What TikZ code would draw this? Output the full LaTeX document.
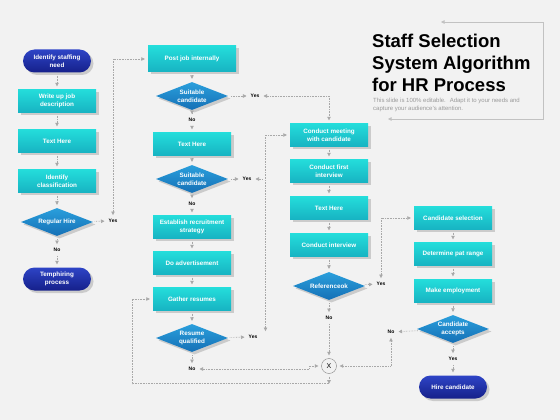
\documentclass[tikz,border=0pt]{standalone}
\usepackage{fontspec}
\setmainfont{Liberation Sans}
\usetikzlibrary{shapes.geometric,shadows,arrows.meta}
\definecolor{bgcol}{HTML}{F2F2F2}
\definecolor{boxtop}{HTML}{24DDDB}
\definecolor{boxbot}{HTML}{17B3C2}
\definecolor{dectop}{HTML}{2A9FDC}
\definecolor{decbot}{HTML}{1570B6}
\definecolor{termtop}{HTML}{2E44C6}
\definecolor{termbot}{HTML}{15208A}
\definecolor{linecol}{HTML}{A8A8A8}
\definecolor{subcol}{HTML}{9A9A9A}

\begin{document}
\begin{tikzpicture}[x=1pt,y=-1pt,
  boxshadow/.style={drop shadow={shadow xshift=2.5pt,shadow yshift=-2.5pt,fill=black!35,opacity=0.5}},
  boxfont/.style={font=\fontsize{6.3}{7.6}\selectfont\bfseries,text=white,align=center},
  proc/.style={boxshadow,boxfont,rectangle,top color=boxtop,bottom color=boxbot,minimum width=78pt,minimum height=23pt,inner sep=1pt},
  dec/.style={boxshadow,boxfont,diamond,aspect=2.5,top color=dectop,bottom color=decbot,minimum width=72pt,minimum height=28pt,inner sep=0pt},
  term/.style={boxshadow,boxfont,rectangle,rounded corners=11.5pt,top color=termtop,bottom color=termbot,minimum width=68pt,minimum height=23pt,inner sep=1pt},
  lbl/.style={font=\fontsize{5}{6}\selectfont\bfseries,inner sep=1pt},
  link/.style={draw=linecol,densely dotted,line width=0.6pt,shorten >=3pt,shorten <=3pt},
  >={Triangle[length=3.5pt,width=3.5pt]}]
\path[use as bounding box,fill=bgcol] (0,0) rectangle (560,420);

\node[term] (need) at (57,61) {Identify staffing\\need};
\node[proc] (desc) at (57,101) {Write up job\\description};
\node[proc] (txtA) at (57,141) {Text Here};
\node[proc] (class) at (57,181) {Identify\\classification};
\node[dec] (hire) at (57,222) {Regular Hire};
\node[lbl] (noA) at (57,250) {No};
\node[term] (temp) at (57,279) {Temphiring\\process};
\node[lbl] (yesA) at (113,221) {Yes};

\node[proc,minimum width=88pt,minimum height=26pt] (post) at (192,59) {Post job internally};
\node[dec] (suitA) at (192,96) {Suitable\\candidate};
\node[lbl] (noB) at (192,120) {No};
\node[proc] (txtB) at (192,144) {Text Here};
\node[dec] (suitB) at (192,179) {Suitable\\candidate};
\node[lbl] (noC) at (192,204) {No};
\node[proc] (strat) at (192,227) {Establish recruitment\\strategy};
\node[proc] (adv) at (192,263) {Do advertisement};
\node[proc] (gather) at (192,299) {Gather resumes};
\node[dec] (resq) at (192,338) {Resume\\qualified};
\node[lbl] (noD) at (192,369) {No};
\node[lbl] (yesB) at (255,96) {Yes};
\node[lbl] (yesC) at (247,179) {Yes};
\node[lbl] (yesD) at (253,337) {Yes};

\node[proc] (meet) at (329,135) {Conduct meeting\\with candidate};
\node[proc] (first) at (329,171) {Conduct first\\interview};
\node[proc] (txtC) at (329,208) {Text Here};
\node[proc] (interv) at (329,245) {Conduct interview};
\node[dec] (ref) at (329,286) {Referenceok};
\node[lbl] (noE) at (329,318) {No};
\node[circle,draw=linecol!80!black,fill=bgcol,minimum size=15pt,inner sep=0pt,font=\fontsize{7}{8}\selectfont] (cross) at (329,366) {X};
\node[lbl] (yesE) at (381,284) {Yes};
\node[lbl] (noF) at (391,332) {No};

\node[proc] (sel) at (453,218) {Candidate selection};
\node[proc] (pay) at (453,254) {Determine pat range};
\node[proc] (emp) at (453,291) {Make employment};
\node[dec] (acc) at (453,329) {Candidate\\accepts};
\node[lbl] (yesF) at (453,359) {Yes};
\node[term] (hirec) at (453,387) {Hire candidate};

\draw[link,->] (need) -- (desc);
\draw[link,->] (desc) -- (txtA);
\draw[link,->] (txtA) -- (class);
\draw[link,->] (class) -- (hire);
\draw[link,->] (hire) -- (noA);
\draw[link,->] (noA) -- (temp);
\draw[link,->] (hire) -- (yesA);
\draw[link,->] (post) -- (suitA);
\draw[link,->] (suitA) -- (noB);
\draw[link,->] (noB) -- (txtB);
\draw[link,->] (txtB) -- (suitB);
\draw[link,->] (suitB) -- (noC);
\draw[link,->] (noC) -- (strat);
\draw[link,->] (strat) -- (adv);
\draw[link,->] (adv) -- (gather);
\draw[link,->] (gather) -- (resq);
\draw[link,->] (resq) -- (noD);
\draw[link,->] (suitA) -- (yesB);
\draw[link,->] (suitB) -- (yesC);
\draw[link,->] (resq) -- (yesD);
\draw[link,->] (meet) -- (first);
\draw[link,->] (first) -- (txtC);
\draw[link,->] (txtC) -- (interv);
\draw[link,->] (interv) -- (ref);
\draw[link,->] (ref) -- (noE);
\draw[link,->] (noE) -- (cross);
\draw[link,->] (ref) -- (yesE);
\draw[link,->] (sel) -- (pay);
\draw[link,->] (pay) -- (emp);
\draw[link,->] (emp) -- (acc);
\draw[link,->] (acc) -- (yesF);
\draw[link,->] (yesF) -- (hirec);
\draw[link,->] (acc) -- (noF);

\draw[link,<->] (yesA.north) |- (post.west);
\draw[link,<->] (yesB.east) -| (meet.north);
\draw[link,<->] ([xshift=7pt]yesD.north east) |- (meet.west);
\draw[link,->] ([xshift=7pt]yesD.north east |- yesC) -- (yesC.east);
\draw[link,<->] (noD.east) -- ([xshift=-12pt]cross.west |- noD.east) |- (cross.west);
\draw[link,<->] (noF.south) |- (cross.east);
\draw[link,<->] (yesE.north) |- (sel.west);
\coordinate (xbot) at ([yshift=-10pt]cross.south);
\draw[link,->,shorten >=0pt] (cross.south) -- (xbot);
\draw[link,->,shorten <=0pt] (xbot) -| ([xshift=-21pt]gather.west) |- (gather.west);

\node[anchor=north west,inner sep=0pt,align=left,font=\fontsize{18.5}{22}\selectfont\bfseries] (title) at (372,34) {Staff Selection\\System Algorithm\\for HR Process};
\node[anchor=north west,inner sep=0pt,align=left,text=subcol,font=\fontsize{6}{8}\selectfont] (sub) at (373,98) {This slide is 100\% editable.~ Adapt it to your needs and\\capture your audience's attention.};
\coordinate (fa) at (441,22);
\coordinate (fb) at (543,22);
\coordinate (fc) at (543,119);
\coordinate (fd) at (388,119);
\draw[draw=linecol!70,line width=0.6pt,<->] (fa) -- (fb) -- (fc) -- (fd);
\end{tikzpicture}
\end{document}
